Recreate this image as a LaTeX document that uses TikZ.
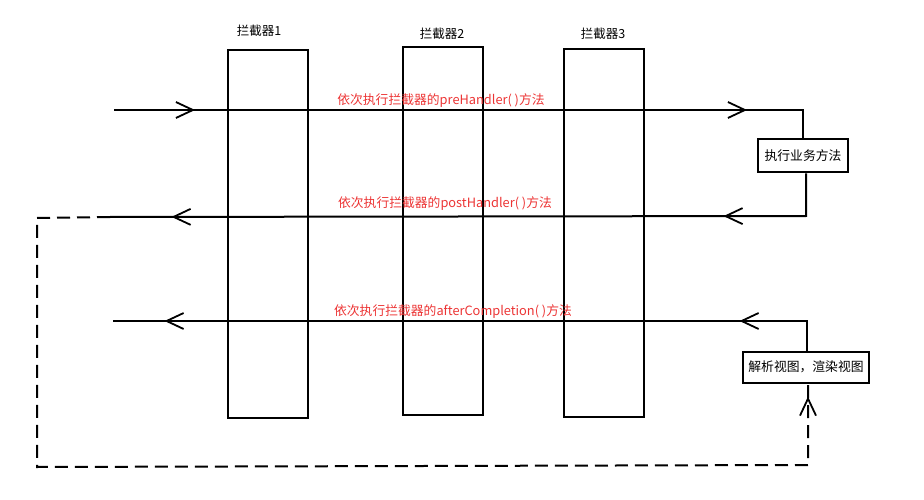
\documentclass[tikz,border=0pt]{standalone}
\usepackage{fontspec}
\setmainfont{Noto Sans CJK SC}
\usetikzlibrary{arrows.meta,decorations.markings}
\definecolor{notered}{RGB}{236, 52, 52}
\tikzset{
  openhead/.tip={Straight Barb[length=17pt,width=16pt,line width=1.8pt]},
  wire/.style={line width=2pt},
  backwire/.style={line width=2pt, dash pattern=on 13pt off 7pt},
  gate/.style={draw, line width=2pt, minimum width=80pt, minimum height=368pt, inner sep=0pt},
  stepbox/.style={draw, line width=2pt, inner sep=0pt, font=\fontsize{12.8}{14}\selectfont},
  stage/.style={font=\fontsize{12.5}{14}\selectfont},
  note/.style={text=notered, font=\fontsize{12.8}{14}\selectfont},
  twoheads/.style 2 args={postaction={decorate}, decoration={markings,
      mark=at position #1 with {\arrow{openhead}},
      mark=at position #2 with {\arrow{openhead}}}},
  endhead/.style={postaction={decorate}, decoration={markings,
      mark=at position #1 with {\arrow{openhead}}}}
}
\begin{document}
\begin{tikzpicture}[x=1pt, y=-1pt]
  \useasboundingbox (0,0) rectangle (924,500);

  \node[gate]  (ic1) at (268, 234) {};
  \node[gate]  (ic2) at (443, 231) {};
  \node[gate]  (ic3) at (604, 233) {};
  \node[stage] (t1)  at (259, 31) {拦截器1};
  \node[stage] (t2)  at (442, 34) {拦截器2};
  \node[stage] (t3)  at (603, 34) {拦截器3};

  \node[stepbox, minimum width=90pt,  minimum height=33pt] (biz) at (803, 156) {执行业务方法};
  \node[stepbox, minimum width=126pt, minimum height=31pt] (rv)  at (806, 367) {解析视图，渲染视图};

  \coordinate (in1)  at (114, 110);
  \coordinate (c1)   at (803, 110);
  \coordinate (c2)   at (806, 216);
  \coordinate (out2) at (110, 217);
  \coordinate (c3)   at (807, 321);
  \coordinate (out3) at (113, 321);
  \coordinate (d1)   at ( 37, 218);
  \coordinate (d2)   at ( 37, 467);
  \coordinate (d3)   at (808, 465);

  \draw[wire, twoheads={81pt}{633pt}]  (in1) -- (c1) -- (biz.north);
  \draw[wire, twoheads={125pt}{677pt}] (biz.south -| c2) -- (c2) -- (out2);
  \draw[wire, twoheads={97pt}{672pt}]  (rv.north -| c3) -- (c3) -- (out3);
  \draw[backwire, endhead=-13pt]       (out2) -- (d1) -- (d2) -- (d3) -- (rv.south -| d3);

  \node[note] (n1) at (441, 101) {依次执行拦截器的preHandler( )方法};
  \node[note] (n2) at (445, 204) {依次执行拦截器的postHandler( )方法};
  \node[note] (n3) at (453, 312) {依次执行拦截器的afterCompletion( )方法};
\end{tikzpicture}
\end{document}
